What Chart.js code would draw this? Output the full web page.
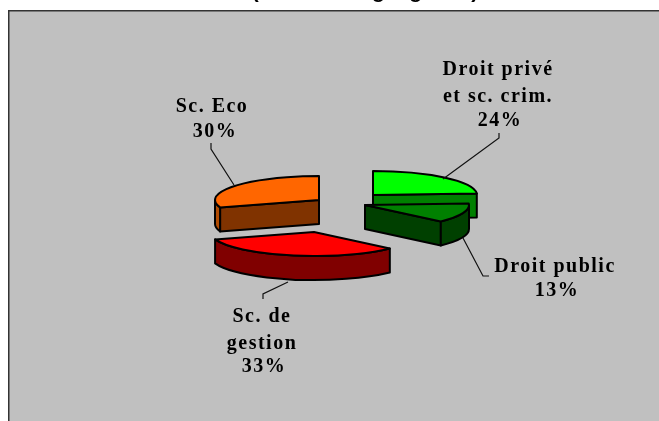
<!DOCTYPE html>
<html><head><meta charset="utf-8">
<style>html,body{margin:0;padding:0;background:#fff;overflow:hidden}canvas{display:block}</style>
<script src="https://cdn.jsdelivr.net/npm/chart.js@4"></script>
</head><body><div style="width:659px;height:421px"><canvas id="c" width="659" height="421"></canvas></div>
<script>
const categories = ['Droit privé', 'Droit public', 'Sc. de gestion', 'Sc. Eco'];
const shares = [24, 13, 33, 30];
const topColors = ['#00FF00', '#008000', '#FF0000', '#FF6600'];
const wallColors = ['#008000', '#004000', '#800000', '#803300'];
const rimColors = ['#008000', '#004000', '#800000', '#B04A00'];
const labelLines = [['Droit privé', 'et sc. crim.'], ['Droit public'], ['Sc. de', 'gestion'], ['Sc. Eco']];
const titleText = '(crédits budget global)';

// layout (separate from data): slice explosion, label anchors, leaders
const explode = [[43.5, -15.5], [35.5, -5.5], [-15.5, 21.5], [-10.5, -10.5]];
const labelAnchors = [
  [[498, 75], [498, 102], [500, 126]],
  [[555, 272], [557, 296]],
  [[262, 322], [262, 349], [264, 372]],
  [[212, 112], [215, 137]]
];
const leaders = [
  [[499, 133], [499, 138], [443, 179]],
  [[463, 238], [483, 276], [489, 276]],
  [[288, 282], [263, 294], [263, 299]],
  [[211, 143], [211, 149], [234, 185]]
];
const paintOrder = [3, 0, 1, 2];
const squash = 24 / 104, depth = 24;

const pie3d = {
  id: 'pie3d',
  beforeDraw(chart) {
    const c = chart.ctx;
    c.save();
    c.fillStyle = '#fff'; c.fillRect(0, 0, chart.width, chart.height);
    c.fillStyle = '#C0C0C0'; c.fillRect(8, 10, chart.width, chart.height);
    c.fillStyle = '#333'; c.fillRect(8, 10, chart.width, 1.5); c.fillRect(8, 10, 1.5, chart.height);
    c.fillStyle = '#000'; c.font = 'bold 21px "Liberation Sans"'; c.textAlign = 'center'; c.textBaseline = 'alphabetic';
    c.fillText(titleText, 365, -2);
    c.restore();
  },
  beforeDatasetDraw(chart) {
    const c = chart.ctx, arcs = chart.getDatasetMeta(0).data;
    paintOrder.forEach(i => {
      const arc = arcs[i], a = arc.startAngle, b = arc.endAngle, r = arc.outerRadius, ry = r * squash;
      const cx = arc.x + explode[i][0], cy = arc.y + explode[i][1];
      const px = t => cx + r * Math.cos(t), py = t => cy + ry * Math.sin(t);
      c.save();
      c.lineWidth = 2; c.strokeStyle = '#000'; c.lineJoin = 'round';
      const wall = (t, col) => {
        c.beginPath(); c.moveTo(cx, cy); c.lineTo(px(t), py(t)); c.lineTo(px(t), py(t) + depth); c.lineTo(cx, cy + depth); c.closePath();
        c.fillStyle = col; c.fill(); c.stroke();
      };
      if (Math.cos(a) < -1e-3) wall(a, wallColors[i]);
      if (Math.cos(b) > 1e-3) wall(b, wallColors[i]);
      const lo = Math.max(a, 0), hi = Math.min(b, Math.PI);
      if (hi > lo) {
        c.beginPath(); c.ellipse(cx, cy, r, ry, 0, lo, hi);
        c.lineTo(px(hi), py(hi) + depth); c.ellipse(cx, cy + depth, r, ry, 0, hi, lo, true); c.closePath();
        c.fillStyle = rimColors[i]; c.fill(); c.stroke();
      }
      // top face: the library's own arc element under a squash transform
      c.save();
      c.translate(cx, cy); c.scale(1, squash); c.translate(-arc.x, -arc.y);
      arc.draw(c);
      c.restore();
      c.beginPath(); c.moveTo(cx, cy); c.ellipse(cx, cy, r, ry, 0, a, b); c.closePath(); c.stroke();
      c.restore();
    });
    return false;
  },
  afterDraw(chart) {
    const c = chart.ctx;
    c.save();
    c.strokeStyle = '#111'; c.lineWidth = 1.2;
    leaders.forEach(pts => {
      c.beginPath(); pts.forEach((p, k) => k ? c.lineTo(p[0], p[1]) : c.moveTo(p[0], p[1])); c.stroke();
    });
    c.fillStyle = '#000'; c.font = 'bold 20px "Liberation Serif"'; c.textAlign = 'center'; c.textBaseline = 'alphabetic';
    c.letterSpacing = '1.5px';
    categories.forEach((_, i) => {
      const lines = labelLines[i].concat(shares[i] + '%');
      lines.forEach((t, k) => c.fillText(t, labelAnchors[i][k][0], labelAnchors[i][k][1]));
    });
    c.restore();
  }
};

new Chart(document.getElementById('c'), {
  type: 'pie',
  data: { labels: categories, datasets: [{ data: shares, backgroundColor: topColors, borderWidth: 0, radius: 104 }] },
  options: {
    responsive: false, animation: false, events: [],
    plugins: { legend: { display: false }, title: { display: false }, tooltip: { enabled: false } }
  },
  plugins: [pie3d]
});
</script></body></html>
